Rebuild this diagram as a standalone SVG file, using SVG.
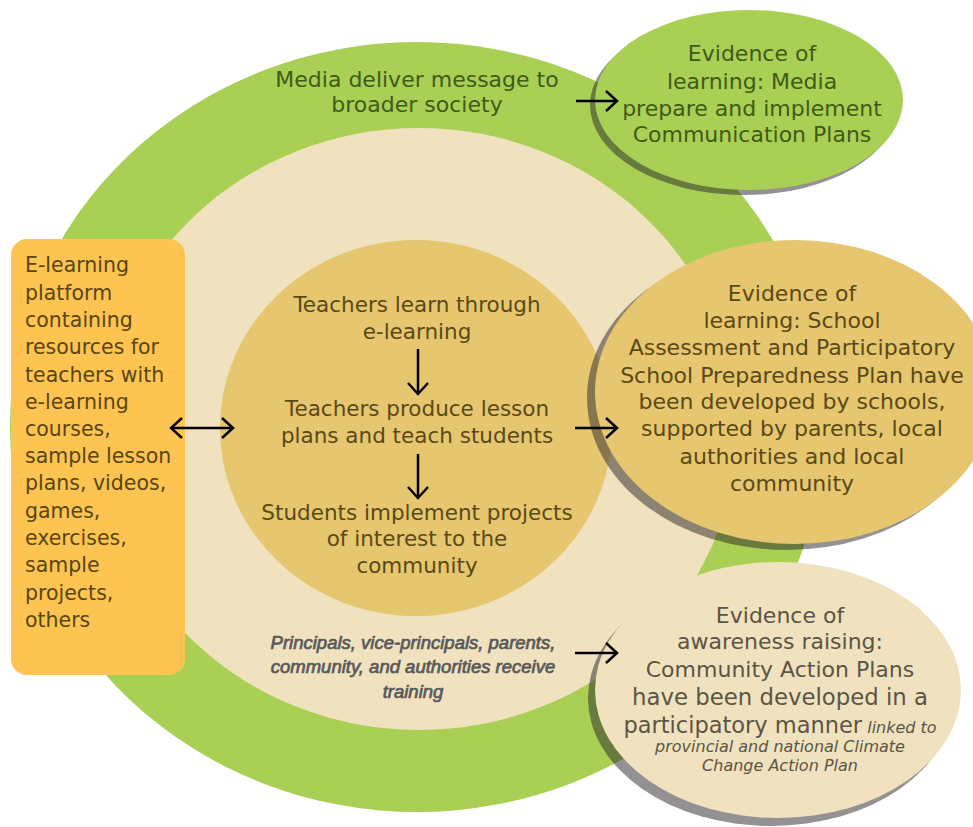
<svg xmlns="http://www.w3.org/2000/svg" width="973" height="827" viewBox="0 0 973 827">
  <style>
    .t { font-family: "DejaVu Sans", "Liberation Sans", sans-serif; }
    .mid { text-anchor: middle; }
    .green-t { fill: #3f5a17; font-size: 22px; }
    .gold-t { fill: #5a4916; font-size: 22px; }
    .center-t { fill: #5a4916; font-size: 21.5px; }
    .box-t { fill: #5a4512; font-size: 20.5px; }
    .beige-t { fill: #5b5445; font-size: 22px; }
    .ital { font-style: italic; }
    .train { font-family: "Liberation Sans", Arial, sans-serif; font-style: italic; font-size: 18.5px; fill: #58585a; stroke: #58585a; stroke-width: 0.7; text-anchor: middle; }
    .shadow { fill: #282328; fill-opacity: 0.5; }
    .conn { fill: none; stroke: #000; stroke-width: 2.5; }
  </style>
  <defs>
    <marker id="ah" viewBox="-13 -12 15 24" refX="0" refY="0" markerWidth="15" markerHeight="24" markerUnits="userSpaceOnUse" orient="auto-start-reverse">
      <path d="M-11,-10 L0,0 L-11,10" fill="none" stroke="#000" stroke-width="2.5"/>
    </marker>
  </defs>

  <rect width="973" height="827" fill="#ffffff"/>

  <g id="ring-media">
    <ellipse cx="417" cy="427" rx="407" ry="385" fill="#a9d054"/>
    <text class="t green-t mid" x="417" y="87">Media deliver message to</text>
    <text class="t green-t mid" x="417" y="112">broader society</text>
  </g>

  <g id="ring-community">
    <ellipse cx="419" cy="429" rx="318" ry="301" fill="#f0e2be"/>
    <text class="train" x="413" y="649">Principals, vice-principals, parents,</text>
    <text class="train" x="413" y="673">community, and authorities receive</text>
    <text class="train" x="413" y="698">training</text>
  </g>

  <g id="core-teachers">
    <ellipse cx="416" cy="428" rx="196" ry="188" fill="#e6c66e"/>
    <text class="t center-t mid" x="417" y="312">Teachers learn through</text>
    <text class="t center-t mid" x="417" y="339">e-learning</text>
    <text class="t center-t mid" x="417" y="416">Teachers produce lesson</text>
    <text class="t center-t mid" x="417" y="443">plans and teach students</text>
    <text class="t center-t mid" x="417" y="520">Students implement projects</text>
    <text class="t center-t mid" x="417" y="546">of interest to the</text>
    <text class="t center-t mid" x="417" y="573">community</text>
  </g>

  <g id="elearning-platform">
    <rect x="11" y="239" width="174" height="436" rx="16" ry="16" fill="#fdc451"/>
    <text class="t box-t" x="25" y="272">E-learning</text>
    <text class="t box-t" x="25" y="299.5">platform</text>
    <text class="t box-t" x="25" y="326.5">containing</text>
    <text class="t box-t" x="25" y="354">resources for</text>
    <text class="t box-t" x="25" y="381.5">teachers with</text>
    <text class="t box-t" x="25" y="408.5">e-learning</text>
    <text class="t box-t" x="25" y="436">courses,</text>
    <text class="t box-t" x="25" y="463">sample lesson</text>
    <text class="t box-t" x="25" y="490">plans, videos,</text>
    <text class="t box-t" x="25" y="518">games,</text>
    <text class="t box-t" x="25" y="545">exercises,</text>
    <text class="t box-t" x="25" y="572">sample</text>
    <text class="t box-t" x="25" y="599.5">projects,</text>
    <text class="t box-t" x="25" y="626.5">others</text>
  </g>

  <g id="evidence-media">
    <ellipse class="shadow" cx="744" cy="105" rx="154" ry="90"/>
    <ellipse cx="749" cy="100" rx="154" ry="90" fill="#a9d054"/>
    <text class="t green-t mid" x="752" y="61">Evidence of</text>
    <text class="t green-t mid" x="752" y="89">learning: Media</text>
    <text class="t green-t mid" x="752" y="116">prepare and implement</text>
    <text class="t green-t mid" x="752" y="142">Communication Plans</text>
  </g>

  <g id="evidence-school">
    <ellipse class="shadow" cx="787" cy="398" rx="200" ry="152"/>
    <ellipse cx="795" cy="392" rx="200" ry="152" fill="#e6c66e"/>
    <text class="t gold-t mid" x="792" y="301">Evidence of</text>
    <text class="t gold-t mid" x="792" y="327.5">learning: School</text>
    <text class="t gold-t mid" x="792" y="354.5">Assessment and Participatory</text>
    <text class="t gold-t mid" x="792" y="382.5">School Preparedness Plan have</text>
    <text class="t gold-t mid" x="792" y="409">been developed by schools,</text>
    <text class="t gold-t mid" x="792" y="436">supported by parents, local</text>
    <text class="t gold-t mid" x="792" y="464">authorities and local</text>
    <text class="t gold-t mid" x="792" y="491">community</text>
  </g>

  <g id="evidence-community">
    <ellipse class="shadow" cx="771" cy="698" rx="183" ry="128"/>
    <ellipse cx="778" cy="690" rx="183" ry="128" fill="#f0e2be"/>
    <text class="t beige-t mid" x="780" y="622.5">Evidence of</text>
    <text class="t beige-t mid" x="780" y="649">awareness raising:</text>
    <text class="t beige-t mid" x="780" y="677">Community Action Plans</text>
    <text class="t beige-t mid" x="780" y="704.5" style="font-size:22.8px">have been developed in a</text>
    <text class="t beige-t mid" x="780" y="732.5"><tspan style="font-size:22.5px">participatory manner</tspan><tspan class="ital" style="font-size:16px"> linked to</tspan></text>
    <text class="t beige-t mid ital" x="780" y="752" style="font-size:16px">provincial and national Climate</text>
    <text class="t beige-t mid ital" x="780" y="771" style="font-size:16px">Change Action Plan</text>
  </g>

  <g id="connectors">
    <path class="conn" d="M576,101 L617,101" marker-end="url(#ah)"/>
    <path class="conn" d="M171,428 L233,428" marker-start="url(#ah)" marker-end="url(#ah)"/>
    <path class="conn" d="M418,349 L418,394" marker-end="url(#ah)"/>
    <path class="conn" d="M418,454 L418,498" marker-end="url(#ah)"/>
    <path class="conn" d="M575,428 L617,428" marker-end="url(#ah)"/>
    <path class="conn" d="M575,653 L617,653" marker-end="url(#ah)"/>
  </g>
</svg>
